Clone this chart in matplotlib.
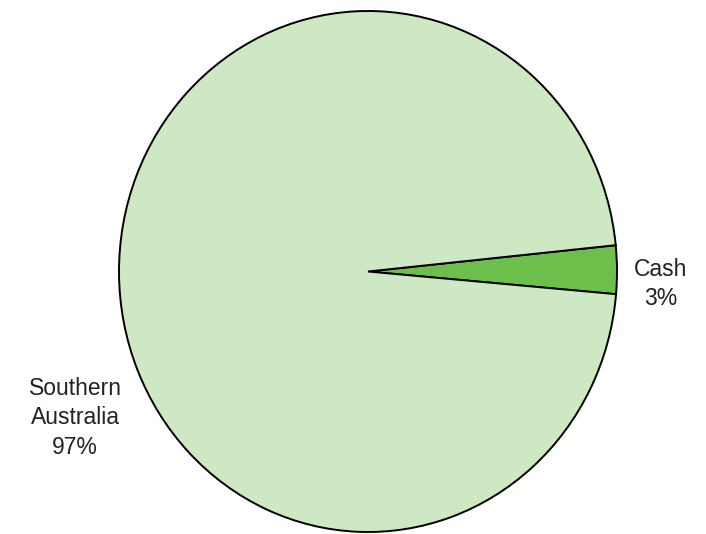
import matplotlib.pyplot as plt

# portfolio split
names = ["Cash", "Southern\nAustralia"]
shares = [3, 97]
colors = ["#6cbf4a", "#cfe8c4"]

plt.rcParams['font.family'] = ['Liberation Sans', 'DejaVu Sans']

fig = plt.figure(figsize=(7.06, 5.34), dpi=100)
# axes stretched so the pie comes out as a tall ellipse
ax = fig.add_axes([119 / 706, 2 / 534, 498 / 706, 521 / 534])
ax.pie(shares, colors=colors, startangle=-5, counterclock=True,
       wedgeprops=dict(edgecolor="black", linewidth=1.4))
ax.set_aspect("auto")
ax.set_xlim(-1, 1)
ax.set_ylim(-1, 1)
ax.axis("off")

label_pos = [(661 / 706, 1 - 284 / 534), (75 / 706, 1 - 418 / 534)]
for name, val, (x, y) in zip(names, shares, label_pos):
    fig.text(x, y, f"{name}\n{val}%", ha="center", va="center",
             fontsize=16.5, color="#222222", linespacing=1.38)

fig.savefig("out.png", dpi=100)
